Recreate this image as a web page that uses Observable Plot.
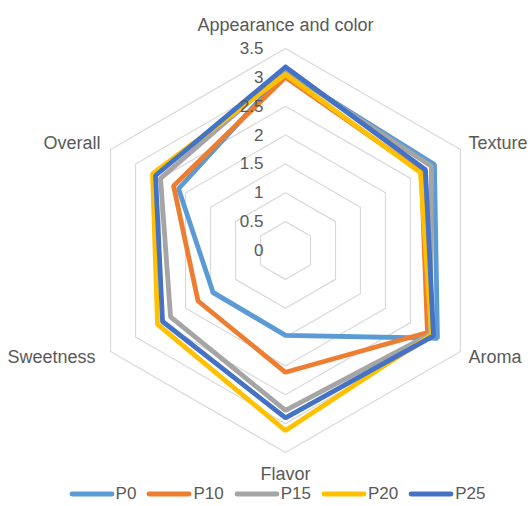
<!DOCTYPE html>
<html>
<head>
<meta charset="utf-8">
<script src="https://cdn.jsdelivr.net/npm/d3@7"></script>
<script src="https://cdn.jsdelivr.net/npm/@observablehq/plot@0.6"></script>
<style>
  html, body { margin: 0; padding: 0; background: #fff; }
  body { width: 530px; height: 506px; overflow: hidden; position: relative; font-family: "Liberation Sans", Arial, sans-serif; }
  #legend { position: absolute; left: 0; top: 482px; width: 530px; height: 24px; display: flex; justify-content: center; align-items: center; font-size: 17px; color: #595959; padding-left: 24px; box-sizing: border-box; }
  .item { display: flex; align-items: center; margin: 0 5px; }
  .item svg { margin-right: 1px; }
</style>
</head>
<body>
<div id="chart"></div>
<div id="legend"></div>
<script>
const categories = ["Appearance and color", "Texture", "Aroma", "Flavor", "Sweetness", "Overall"];
const seriesNames = ["P0", "P10", "P15", "P20", "P25"];
const P0  = [3.10, 2.98, 3.04, 1.47, 1.45, 2.14];
const P10 = [3.00, 2.72, 2.84, 2.11, 1.75, 2.24];
const P15 = [3.12, 2.92, 2.90, 2.77, 2.30, 2.50];
const P20 = [3.05, 2.70, 2.92, 3.12, 2.56, 2.66];
const P25 = [3.18, 2.80, 2.96, 2.90, 2.46, 2.60];
const tickValues = [0, 0.5, 1, 1.5, 2, 2.5, 3, 3.5];
const colors = ["#5B9BD5", "#ED7D31", "#A5A5A5", "#FFC000", "#4472C4"];

const seriesValues = [P0, P10, P15, P20, P25];
const maxR = 3.5;
const ang = i => Math.PI / 2 - i * Math.PI / 3;
const px = (r, i) => r * Math.cos(ang(i));
const py = (r, i) => r * Math.sin(ang(i));
const ring = categories.map((_, i) => i).concat([0]);

const gridRows = tickValues.filter(t => t > 0).flatMap(t =>
  ring.map(i => ({t, x: px(t, i), y: py(t, i)})));

const seriesRows = seriesNames.flatMap((s, k) =>
  ring.map(i => ({series: s, x: px(seriesValues[k][i], i), y: py(seriesValues[k][i], i)})));

const labelRows = categories.map((c, i) => ({c, i, x: px(maxR, i), y: py(maxR, i)}));
const labelOffsets = [
  {dx: 0, dy: -23, anchor: "middle"},
  {dx: 8, dy: -6, anchor: "start"},
  {dx: 8, dy: 6, anchor: "start"},
  {dx: 0, dy: 22, anchor: "middle"},
  {dx: -15, dy: 6, anchor: "end"},
  {dx: -10, dy: -6, anchor: "end"}
];

const textColor = "#595959";
const chart = Plot.plot({
  width: 530,
  height: 506,
  margin: 0,
  style: {fontFamily: "'Liberation Sans', Arial, sans-serif", background: "transparent"},
  x: {domain: [-maxR, maxR], range: [83, 487], axis: null},
  y: {domain: [-maxR, maxR], range: [452, 48], axis: null},
  color: {domain: seriesNames, range: colors},
  marks: [
    Plot.line(gridRows, {x: "x", y: "y", z: "t", stroke: "#D9D9D9", strokeWidth: 1.2}),
    Plot.line(seriesRows, {x: "x", y: "y", z: "series", stroke: "series", strokeWidth: 4.8, strokeLinejoin: "miter", curve: "linear"}),
    Plot.text(tickValues, {x: 0, y: d => d, text: d => String(d), dx: -22, textAnchor: "end", fill: textColor, fontSize: 17}),
    ...labelRows.map((d, i) => Plot.text([d], {x: "x", y: "y", text: "c", dx: labelOffsets[i].dx, dy: labelOffsets[i].dy, textAnchor: labelOffsets[i].anchor, fill: textColor, fontSize: 18}))
  ]
});
document.getElementById("chart").appendChild(chart);

const legend = document.getElementById("legend");
seriesNames.forEach((s, k) => {
  const item = document.createElement("div");
  item.className = "item";
  item.innerHTML = `<svg width="46" height="10"><line x1="3" y1="5" x2="43" y2="5" stroke="${colors[k]}" stroke-width="4.8" stroke-linecap="round"/></svg><span>${s}</span>`;
  legend.appendChild(item);
});
</script>
</body>
</html>
